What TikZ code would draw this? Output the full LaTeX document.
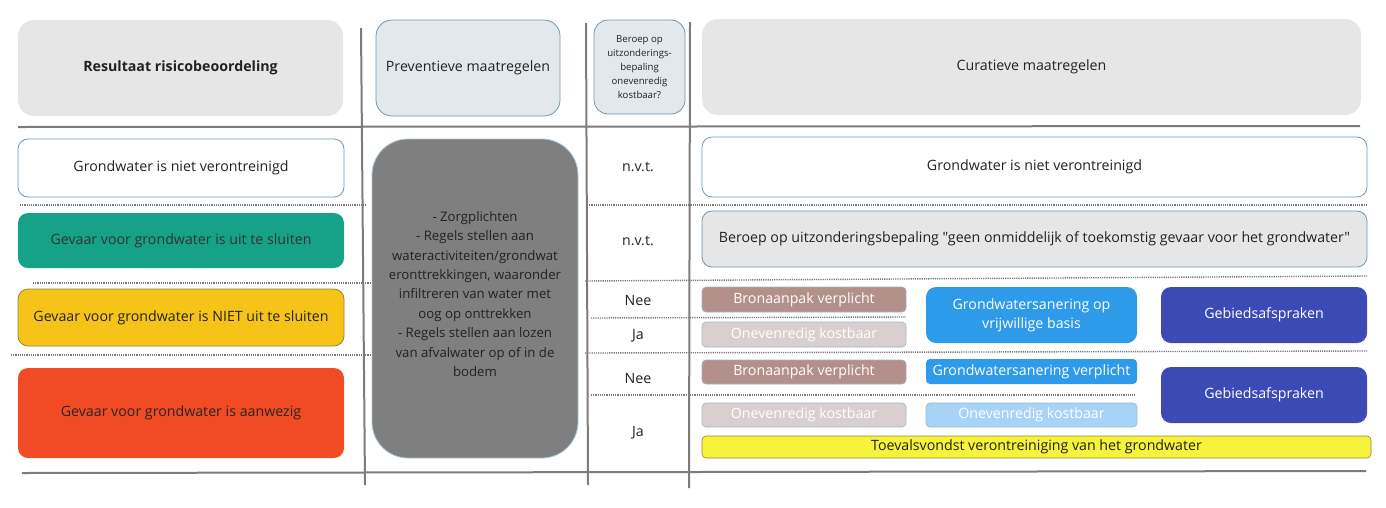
\documentclass[tikz,border=0pt]{standalone}
\usepackage{fontspec}
\setmainfont{Open Sans}[Ligatures=TeXOff]
\definecolor{hdrgray}{HTML}{E6E6E6}
\definecolor{hdrblue}{HTML}{E3E8EC}
\definecolor{edgeblue}{HTML}{6E98B0}
\definecolor{gridgray}{HTML}{7C7C7C}
\definecolor{dotgray}{HTML}{7A7A7A}
\definecolor{teal}{HTML}{16A288}
\definecolor{amber}{HTML}{F6C419}
\definecolor{amberedge}{HTML}{8E8A3A}
\definecolor{redbox}{HTML}{F04B25}
\definecolor{prevgray}{HTML}{7F7F7F}
\definecolor{prevedge}{HTML}{A9CADB}
\definecolor{rosy}{HTML}{B4908A}
\definecolor{pale}{HTML}{DACFCF}
\definecolor{bblue}{HTML}{2E9AEA}
\definecolor{indigo}{HTML}{3C4AB6}
\definecolor{lblue}{HTML}{A7D3F6}
\definecolor{lemon}{HTML}{F7F23A}
\definecolor{txt}{HTML}{222222}
\tikzset{
  box/.style={rounded corners=#1, inner sep=0pt, align=center, font=\fontsize{14.2}{19}\selectfont, text=txt},
  box/.default=10pt,
  grid/.style={draw=gridgray, line width=2pt},
  dotline/.style={draw=dotgray, line width=1.4pt, dash pattern=on 1.2pt off 1pt},
  lbl/.style={inner sep=0pt, font=\fontsize{14.2}{19}\selectfont, text=txt},
}
\begin{document}
\begin{tikzpicture}[x=1pt,y=-1pt]
\useasboundingbox (0,0) rectangle (1386,507);
% grid lines
\draw[grid] (18,127) -- (1360,126);
\draw[grid] (22,473) -- (1366,471);
\draw[grid] (361,28) -- (365,485);
\draw[grid] (586,23) -- (588,485);
\draw[grid] (690,22) -- (689,488);
% dotted row separators
\draw[dotline] (20,205) -- (366,205);
\draw[dotline] (587,205) -- (1367,205);
\draw[dotline] (33,283) -- (370,283);
\draw[dotline] (585,281) -- (1367,276);
\draw[dotline] (591,318) -- (906,317);
\draw[dotline] (11,355) -- (370,355);
\draw[dotline] (585,353) -- (1367,351);
\draw[dotline] (591,395) -- (1135,395);
% header
\node[box=16pt, fill=hdrgray, minimum width=325, minimum height=96] (hres) at (180.5,68) {\bfseries Resultaat risicobeoordeling};
\node[box=16pt, fill=hdrblue, draw=edgeblue, line width=0.8pt, minimum width=184, minimum height=96] (hprev) at (468,68) {Preventieve maatregelen};
\node[box=14pt, fill=hdrblue, draw=edgeblue, line width=0.8pt, minimum width=91, minimum height=94, font=\fontsize{9.6}{14}\selectfont] (hber) at (639.5,67) {Beroep op\\uitzonderings-\\bepaling\\onevenredig\\kostbaar?};
\node[box=16pt, fill=hdrgray, minimum width=659, minimum height=96] (hcur) at (1031.5,67) {Curatieve maatregelen};
% left column
\node[box, fill=white, draw=edgeblue, line width=0.8pt, minimum width=326, minimum height=58] (r1) at (181,168) {Grondwater is niet verontreinigd};
\node[box, fill=teal, minimum width=326, minimum height=55, text=black!80] (r2) at (181,240.5) {Gevaar voor grondwater is uit te sluiten};
\node[box, fill=amber, draw=amberedge, line width=0.8pt, minimum width=326, minimum height=57] (r3) at (181,317.5) {Gevaar voor grondwater is NIET uit te sluiten};
\node[box, fill=redbox, minimum width=326, minimum height=90, text=black!85] (r4) at (181,413) {Gevaar voor grondwater is aanwezig};
% preventive
\node[box=36pt, fill=prevgray, draw=prevedge, line width=0.8pt, minimum width=206, minimum height=319] (prev) at (475,298.5) {};
\node[lbl, align=center, font=\fontsize{13.2}{19.4}\selectfont, anchor=north] (prevtxt) at (475,211) {- Zorgplichten\\- Regels stellen aan\\wateractiviteiten/grondwat\\eronttrekkingen, waaronder\\infiltreren van water met\\oog op onttrekken\\- Regels stellen aan lozen\\van afvalwater op of in de\\bodem};
% middle column
\node[lbl] (m1) at (638,167) {n.v.t.};
\node[lbl] (m2) at (638,241) {n.v.t.};
\node[lbl] (m3) at (638,300) {Nee};
\node[lbl] (m4) at (638,336) {Ja};
\node[lbl] (m5) at (638,378) {Nee};
\node[lbl] (m6) at (638,433) {Ja};
% curative
\node[box, fill=white, draw=edgeblue, line width=0.8pt, minimum width=665, minimum height=60] (c1) at (1034.5,167) {Grondwater is niet verontreinigd};
\node[box, fill=hdrgray, draw=edgeblue, line width=0.8pt, minimum width=665, minimum height=56] (c2) at (1034.5,239) {Beroep op uitzonderingsbepaling "geen onmiddelijk of toekomstig gevaar voor het grondwater"};
\node[box=4pt, fill=rosy, draw=edgeblue!70, line width=0.6pt, minimum width=204, minimum height=25, text=white] (bron1) at (804,299.5) {Bronaanpak verplicht};
\node[box=4pt, fill=pale, draw=edgeblue!70, line width=0.6pt, minimum width=204, minimum height=25, text=white] (onev1) at (804,334.5) {Onevenredig kostbaar};
\node[box, fill=bblue, minimum width=211, minimum height=56, text=white] (sanvrij) at (1031.5,315) {Grondwatersanering op\\vrijwillige basis};
\node[box, fill=indigo, minimum width=206, minimum height=56, text=white] (geb1) at (1264,315) {Gebiedsafspraken};
\node[box=4pt, fill=rosy, draw=edgeblue!70, line width=0.6pt, minimum width=204, minimum height=24, text=white] (bron2) at (804,372) {Bronaanpak verplicht};
\node[box=4pt, fill=bblue, minimum width=211, minimum height=25, text=white] (sanverp) at (1031.5,371.5) {Grondwatersanering verplicht};
\node[box, fill=indigo, minimum width=206, minimum height=56, text=white] (geb2) at (1264,395) {Gebiedsafspraken};
\node[box=4pt, fill=pale, draw=edgeblue!70, line width=0.6pt, minimum width=204, minimum height=24, text=white] (onev2) at (804,415) {Onevenredig kostbaar};
\node[box=4pt, fill=lblue, draw=edgeblue!70, line width=0.6pt, minimum width=211, minimum height=24, text=white] (onevb) at (1031.5,415) {Onevenredig kostbaar};
\node[box=4pt, fill=lemon, draw=amberedge, line width=0.6pt, minimum width=669, minimum height=22] (toeval) at (1036.5,447) {Toevalsvondst verontreiniging van het grondwater};
\end{tikzpicture}
\end{document}
